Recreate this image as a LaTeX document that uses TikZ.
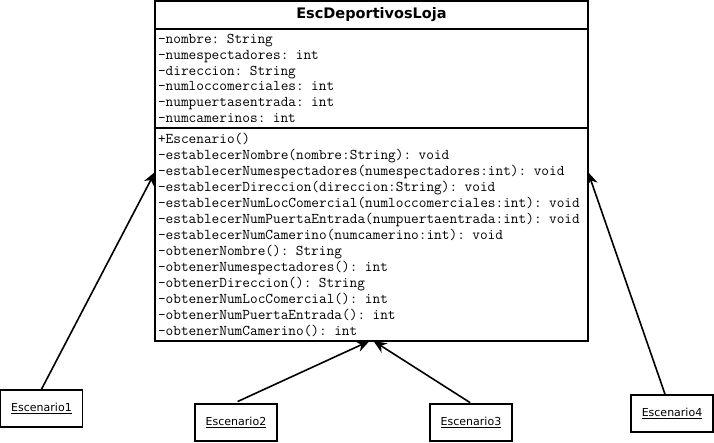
\documentclass[tikz,border=0pt]{standalone}
\usepackage{fontspec}
\setmainfont{DejaVu Sans}
\usetikzlibrary{positioning,arrows.meta}

\begin{document}
\begin{tikzpicture}[
	x=1pt, y=-1pt,
	line width=1.6pt,
	classpart/.style = {draw, outer sep=0pt, inner xsep=2.5pt, inner ysep=0pt,
		minimum width=433pt, text width=427pt},
	classtitle/.style = {classpart, align=center, minimum height=28pt,
		font=\fontsize{14.5}{16}\bfseries},
	attrpart/.style = {classpart, align=left, minimum height=99pt,
		font=\ttfamily\fontsize{14.9}{15.8}\selectfont},
	methpart/.style = {classpart, align=left, minimum height=213pt,
		font=\ttfamily\fontsize{14.9}{16}\selectfont},
	objbox/.style = {draw, minimum width=82pt, minimum height=37pt,
		inner sep=0pt, font=\fontsize{11}{12}\selectfont},
	inherit/.style = {-{Stealth[length=13pt,width=11pt,inset=4pt]}}
	]
	\useasboundingbox (0,0) rectangle (714,443);

	% class
	\node [classtitle] (title) at (371.5,15) {EscDeportivosLoja};
	\node [attrpart, below=0pt of title] (attrs) {%
		-nombre: String\\
		-numespectadores: int\\
		-direccion: String\\
		-numloccomerciales: int\\
		-numpuertasentrada: int\\
		-numcamerinos: int};
	\node [methpart, below=0pt of attrs] (meths) {%
		+Escenario()\\
		-establecerNombre(nombre:String): void\\
		-establecerNumespectadores(numespectadores:int): void\\
		-establecerDireccion(direccion:String): void\\
		-establecerNumLocComercial(numloccomerciales:int): void\\
		-establecerNumPuertaEntrada(numpuertaentrada:int): void\\
		-establecerNumCamerino(numcamerino:int): void\\
		-obtenerNombre(): String\\
		-obtenerNumespectadores(): int\\
		-obtenerDireccion(): String\\
		-obtenerNumLocComercial(): int\\
		-obtenerNumPuertaEntrada(): int\\
		-obtenerNumCamerino(): int};

	\coordinate (tl) at ([yshift=-44pt]meths.north west);
	\coordinate (tr) at ([yshift=-44pt]meths.north east);
	\coordinate (tb1) at ([xshift=-2pt]meths.south);
	\coordinate (tb2) at ([xshift=2pt]meths.south);

	% objects
	\node [objbox] (esc1) at (41.5,408.5) {\underline{Escenario1}};
	\node [objbox] (esc2) at (236,422.5) {\underline{Escenario2}};
	\node [objbox] (esc3) at (471,422.5) {\underline{Escenario3}};
	\node [objbox] (esc4) at (672,413.5) {\underline{Escenario4}};

	\draw [inherit] (esc1.north) -- (tl);
	\draw [inherit, shorten <=4pt] ([xshift=-2pt]esc2.north) -- (tb1);
	\draw [inherit, shorten <=1pt] (esc3.north) -- (tb2);
	\draw [inherit] ([xshift=-7pt]esc4.north) -- (tr);
\end{tikzpicture}
\end{document}
